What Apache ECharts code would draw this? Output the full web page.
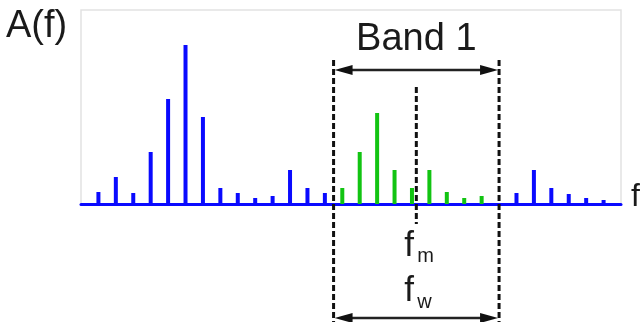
<!DOCTYPE html>
<html>
<head>
<meta charset="utf-8">
<script src="https://cdn.jsdelivr.net/npm/echarts@6/dist/echarts.min.js"></script>
<style>
html, body { margin: 0; padding: 0; background: #fff; }
#main { width: 641px; height: 322px; }
</style>
</head>
<body>
<div id="main"></div>
<script>
// spectrum lines, index = harmonic number
var harmonics = [0, 1, 2, 3, 4, 5, 6, 7, 8, 9, 10, 11, 12, 13, 14, 15, 16, 17, 18, 19, 20, 21, 22, 23, 24, 25, 26, 27, 28, 29];
var amplitudes = [12, 27, 11, 52, 105, 159, 87, 16, 11, 6, 8, 34, 16, 11, 16, 52, 91, 34, 16, 34, 12, 6, 8, null, 11, 34, 16, 10, 6, 4];

// band limits on the frequency axis
var bandLow = 13.5;
var bandHigh = 23;
var bandMid = (bandLow + bandHigh) / 2;

var yLabel = 'A(f)';
var xLabel = 'f';
var bandLabel = 'Band 1';

var blueData = [];
var greenData = [];
harmonics.forEach(function (h, i) {
    var v = amplitudes[i];
    if (v == null) return;
    if (h > bandLow && h < bandHigh) {
        greenData.push([h, v]);
    } else {
        blueData.push([h, v]);
    }
});

var myChart = echarts.init(document.getElementById('main'));

var option = {
    animation: false,
    grid: {
        left: 81,
        right: 20,
        top: 10,
        bottom: 118,
        show: true,
        borderColor: '#e2e2e2',
        borderWidth: 1.5
    },
    xAxis: {
        type: 'value',
        min: -1,
        max: 30,
        axisLine: { show: true, lineStyle: { color: '#0a0aff', width: 3 } },
        axisTick: { show: false },
        axisLabel: { show: false },
        splitLine: { show: false }
    },
    yAxis: {
        type: 'value',
        min: 0,
        max: 194,
        show: false,
        splitLine: { show: false }
    },
    series: [{
        name: 'outside',
        type: 'bar',
        barWidth: 4,
        barGap: '-100%',
        itemStyle: { color: '#0a0aff' },
        data: blueData
    }, {
        name: 'band',
        type: 'bar',
        barWidth: 4,
        barGap: '-100%',
        itemStyle: { color: '#12c412' },
        data: greenData
    }]
};

myChart.setOption(option);

var xLo = myChart.convertToPixel({ gridIndex: 0 }, [bandLow, 0])[0];
var xHi = myChart.convertToPixel({ gridIndex: 0 }, [bandHigh, 0])[0];
var xMid = myChart.convertToPixel({ gridIndex: 0 }, [bandMid, 0])[0];

var dash = { stroke: '#111', lineWidth: 3, lineDash: [6, 3] };
var ink = '#1a1a1a';
var font = 'Liberation Sans';

function vline(x, y1, y2) {
    return { type: 'line', z: 100, shape: { x1: x, y1: y1, x2: x, y2: y2 }, style: dash };
}

function arrow(x1, x2, y) {
    return {
        type: 'group',
        z: 100,
        children: [{
            type: 'line',
            shape: { x1: x1 + 10, y1: y, x2: x2 - 10, y2: y },
            style: { stroke: '#222', lineWidth: 2.5 }
        }, {
            type: 'polygon',
            shape: { points: [[x1 + 1, y], [x1 + 19, y - 5], [x1 + 19, y + 5]] },
            style: { fill: '#111' }
        }, {
            type: 'polygon',
            shape: { points: [[x2 - 1, y], [x2 - 19, y - 5], [x2 - 19, y + 5]] },
            style: { fill: '#111' }
        }]
    };
}

function label(text, x, y, size, align) {
    return {
        type: 'text',
        z: 101,
        x: x,
        y: y,
        style: {
            text: text,
            fill: ink,
            font: size + 'px "' + font + '"',
            align: align || 'left',
            verticalAlign: 'middle'
        }
    };
}

myChart.setOption({
    graphic: [
        vline(xLo, 60, 322),
        vline(xHi, 60, 322),
        vline(xMid, 87, 224),
        arrow(xLo, xHi, 70),
        arrow(xLo, xHi, 318),
        label(yLabel, 6, 27, 38),
        label(bandLabel, (xLo + xHi) / 2, 40, 38, 'center'),
        label(xLabel, 631, 197, 32),
        label('f', xMid - 12, 246, 35),
        label('m', xMid + 1, 256, 20),
        label('f', xMid - 12, 291, 35),
        label('w', xMid + 1, 302, 20)
    ]
});
</script>
</body>
</html>
